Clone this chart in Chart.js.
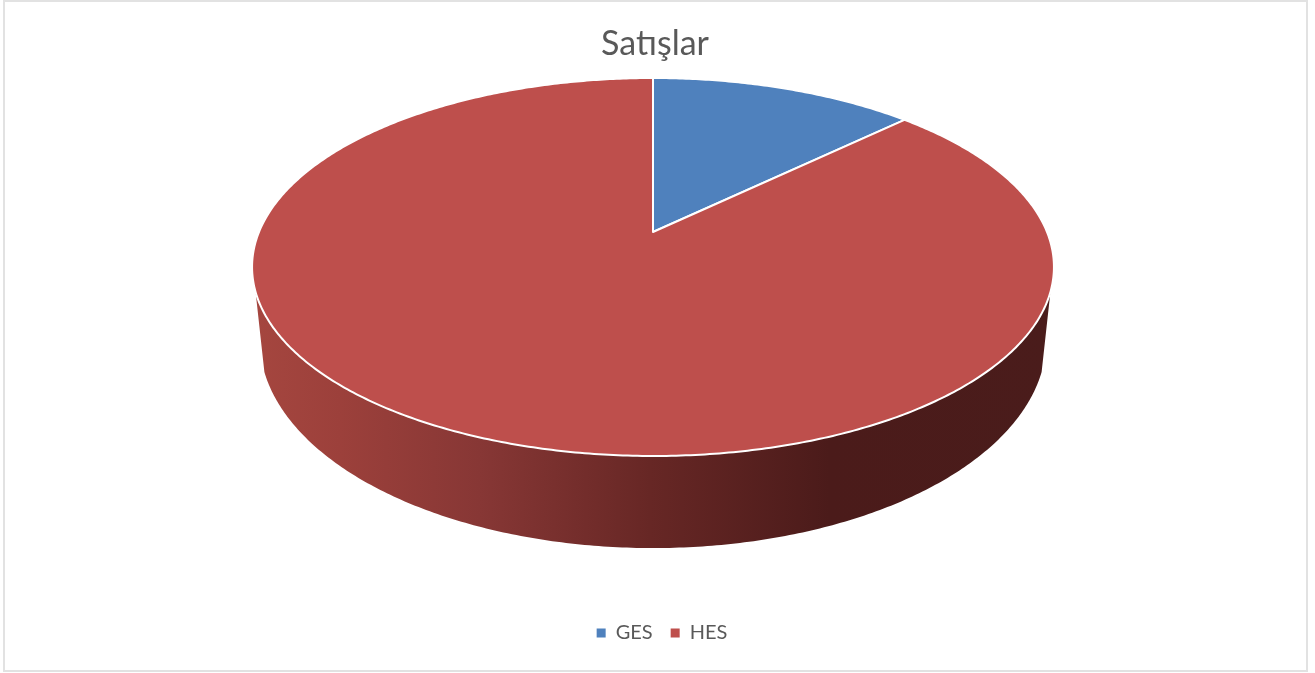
<!DOCTYPE html>
<html lang="tr">
<head>
<meta charset="utf-8">
<title>Satışlar</title>
<script src="https://cdn.jsdelivr.net/npm/chart.js@4"></script>
<style>
    body { margin: 0; background: #fff; }
    #frame { position: absolute; left: 3px; top: 0; width: 1301px; height: 668px; border: 2px solid #e2e2e2; }
    canvas { position: absolute; left: 0; top: 0; }
</style>
</head>
<body>
<div id="frame"></div>
<canvas id="salesChart" width="1315" height="673"></canvas>
<script>
const categories = ['GES', 'HES'];
const sales = [12.8, 87.2];
const sliceColors = ['#4f81bd', '#be4f4c'];

// Perspective of the tilted disc
const centerX = 653;
const tilt = 0.1852;
const topRim = { apexY: 232, radiusX: 394, radiusY: 182.5 };
const bottomRim = { apexY: 301.5, radiusX: 386.5, radiusY: 200.9 };

// Canvas angle -> point on the tilted disc
function project(rim, angle) {
    const s = Math.cos(angle);
    const t = -Math.sin(angle);
    const d = 1 + tilt * t;
    return { x: centerX + rim.radiusX * s / d, y: rim.apexY - rim.radiusY * t / d };
}

function traceRim(ctx, rim, from, to) {
    const steps = Math.max(2, Math.ceil(Math.abs(to - from) / 0.01));
    for (let i = 0; i <= steps; i++) {
        const p = project(rim, from + (to - from) * i / steps);
        ctx.lineTo(p.x, p.y);
    }
}

// Slices keep the library's angles, only the outline goes through the tilt
Chart.registry.getElement('arc').prototype.draw = function (ctx) {
    const apex = { x: centerX, y: topRim.apexY };
    ctx.save();
    ctx.beginPath();
    ctx.moveTo(apex.x, apex.y);
    traceRim(ctx, topRim, this.startAngle, this.endAngle);
    ctx.closePath();
    ctx.fillStyle = this.options.backgroundColor;
    ctx.fill();
    ctx.strokeStyle = this.options.borderColor;
    ctx.lineWidth = this.options.borderWidth;
    ctx.lineJoin = 'round';
    ctx.stroke();
    ctx.restore();
};

const wallPlugin = {
    id: 'wall',
    beforeDatasetsDraw(chart) {
        const ctx = chart.ctx;
        const gradient = ctx.createLinearGradient(255, 0, 1050, 0);
        gradient.addColorStop(0, '#a5463f');
        gradient.addColorStop(0.107, '#9c403b');
        gradient.addColorStop(0.283, '#873735');
        gradient.addColorStop(0.497, '#672725');
        gradient.addColorStop(0.723, '#4b1b1a');
        gradient.addColorStop(1, '#4a1c1b');
        ctx.save();
        ctx.beginPath();
        traceRim(ctx, topRim, 0.315, Math.PI - 0.315);
        traceRim(ctx, bottomRim, Math.PI - 0.336, 0.336);
        ctx.closePath();
        ctx.fillStyle = gradient;
        ctx.fill();
        ctx.restore();
    }
};

// Title and legend do not sit on the canvas centre in the original
const nudgePlugin = {
    id: 'nudge',
    afterLayout(chart) {
        chart.titleBlock.left -= 2.5;
        chart.titleBlock.right -= 2.5;
        chart.legend.left += 4.5;
        chart.legend.right += 4.5;
        chart.legend.adjustHitBoxes();
    }
};

new Chart(document.getElementById('salesChart'), {
    type: 'pie',
    data: {
        labels: categories,
        datasets: [{ data: sales, backgroundColor: sliceColors, borderColor: '#ffffff', borderWidth: 2 }]
    },
    plugins: [wallPlugin, nudgePlugin],
    options: {
        responsive: false,
        animation: false,
        layout: { padding: { top: 24, bottom: 20 } },
        plugins: {
            title: {
                display: true,
                text: 'Satışlar',
                color: '#595959',
                font: { family: 'Lato', size: 34, weight: 'normal' },
                padding: 0
            },
            legend: {
                position: 'bottom',
                labels: {
                    color: '#595959',
                    font: { family: 'Lato', size: 20 },
                    boxWidth: 9,
                    boxHeight: 9,
                    padding: 18,
                    // default labels carry the slice border, which eats into the swatch
                    generateLabels: (chart) => Chart.overrides.pie.plugins.legend.labels
                        .generateLabels(chart).map(item => ({ ...item, lineWidth: 0 }))
                }
            },
            tooltip: { enabled: false }
        }
    }
});
</script>
</body>
</html>
